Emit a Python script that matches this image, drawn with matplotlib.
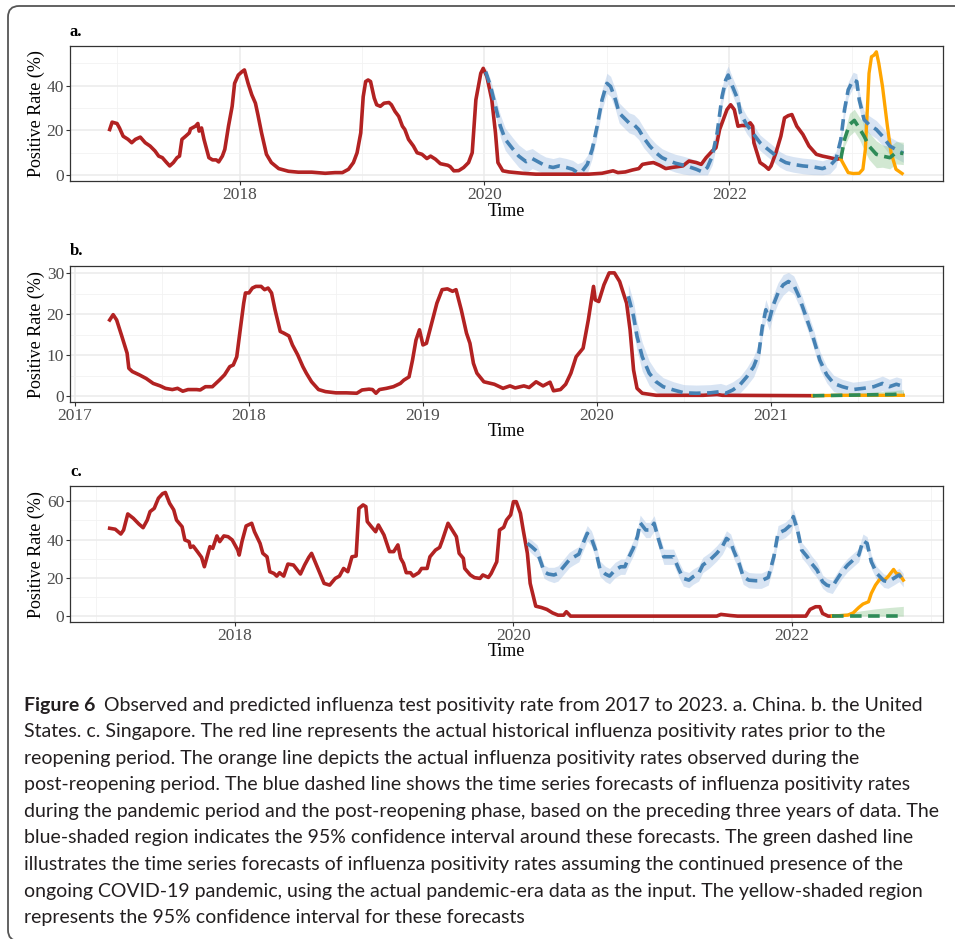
""" influenza positivity: observed vs forecast, three countries """
import numpy as np
import matplotlib.pyplot as plt
from matplotlib.patches import FancyBboxPatch
from matplotlib.transforms import IdentityTransform

plt.rcParams['font.family'] = ['Liberation Serif', 'DejaVu Serif']

''' values read off the figure: (decimal year, positive rate %) '''
# a. China
cn_observed = [
    (2016.94, 20.3), (2016.96, 23.6), (2017.00, 23.0), (2017.02, 21.0), (2017.05, 17.3),
    (2017.09, 15.9), (2017.12, 14.4), (2017.15, 15.9), (2017.19, 16.9), (2017.23, 14.4),
    (2017.27, 12.9), (2017.31, 10.7), (2017.34, 8.4), (2017.37, 7.7), (2017.40, 5.8),
    (2017.43, 4.0), (2017.46, 5.5), (2017.49, 7.7), (2017.51, 8.4), (2017.53, 15.9),
    (2017.56, 17.3), (2017.59, 18.8), (2017.60, 20.6), (2017.64, 21.8), (2017.66, 23.0),
    (2017.67, 19.6), (2017.69, 21.0), (2017.71, 15.9), (2017.75, 7.7), (2017.78, 6.7),
    (2017.81, 6.7), (2017.83, 5.8), (2017.86, 8.4), (2017.88, 11.4), (2017.91, 21.8),
    (2017.94, 30.7), (2017.96, 41.0), (2017.99, 44.7), (2018.02, 46.2), (2018.04, 47.0),
    (2018.07, 41.0), (2018.10, 35.9), (2018.13, 32.1), (2018.15, 27.0), (2018.18, 18.8),
    (2018.22, 9.2), (2018.26, 5.5), (2018.32, 2.8), (2018.40, 1.6), (2018.48, 1.2),
    (2018.59, 1.2), (2018.70, 0.7), (2018.78, 1.0), (2018.84, 1.0), (2018.89, 2.5),
    (2018.93, 5.5), (2018.96, 9.9), (2018.99, 18.8), (2019.01, 35.0), (2019.03, 41.8),
    (2019.05, 42.5), (2019.07, 41.8), (2019.10, 34.4), (2019.12, 31.4), (2019.15, 30.7),
    (2019.18, 32.1), (2019.22, 32.4), (2019.24, 31.4), (2019.27, 28.4), (2019.30, 26.2),
    (2019.33, 21.8), (2019.35, 20.3), (2019.38, 15.9), (2019.42, 12.9), (2019.45, 9.9),
    (2019.49, 9.2), (2019.53, 7.3), (2019.56, 8.4), (2019.60, 7.0), (2019.64, 5.0),
    (2019.70, 4.3), (2019.72, 3.7), (2019.75, 1.8), (2019.79, 1.9), (2019.83, 3.3),
    (2019.87, 5.5), (2019.90, 9.9), (2019.93, 33.6), (2019.97, 45.5), (2019.99, 47.7),
    (2020.02, 44.0), (2020.06, 33.6), (2020.09, 18.8), (2020.11, 5.5), (2020.15, 1.8),
    (2020.20, 1.3), (2020.31, 0.7), (2020.42, 0.3), (2020.56, 0.3), (2020.69, 0.3),
    (2020.85, 0.3), (2020.96, 0.7), (2021.05, 1.8), (2021.09, 1.0), (2021.15, 1.3),
    (2021.21, 2.2), (2021.26, 2.8), (2021.29, 4.7), (2021.34, 5.2), (2021.38, 5.5),
    (2021.43, 4.3), (2021.48, 2.8), (2021.53, 3.3), (2021.62, 4.0), (2021.67, 6.2),
    (2021.73, 5.5), (2021.77, 4.7), (2021.81, 7.7), (2021.86, 10.7), (2021.89, 12.1),
    (2021.92, 20.3), (2021.94, 23.3), (2021.98, 29.2), (2022.01, 31.4), (2022.04, 29.2),
    (2022.07, 21.8), (2022.10, 22.1), (2022.14, 22.1), (2022.17, 23.3), (2022.19, 21.8),
    (2022.20, 14.4), (2022.25, 5.5), (2022.29, 4.0), (2022.32, 2.5), (2022.34, 4.0),
    (2022.38, 9.9), (2022.42, 17.3), (2022.45, 25.5), (2022.48, 26.5), (2022.51, 27.0),
    (2022.55, 21.8), (2022.60, 18.1), (2022.65, 12.9), (2022.71, 9.2), (2022.76, 8.4),
    (2022.82, 7.7), (2022.87, 7.0), (2022.91, 7.3),
]
cn_reopen = [
    (2022.91, 7.0), (2022.94, 4.0), (2022.97, 1.0), (2023.01, 0.6), (2023.06, 0.7),
    (2023.09, 2.5), (2023.11, 11.4), (2023.13, 33.6), (2023.14, 45.5), (2023.16, 52.9),
    (2023.18, 53.6), (2023.20, 55.1), (2023.22, 49.9), (2023.25, 39.6), (2023.29, 21.8),
    (2023.32, 9.9), (2023.36, 2.5), (2023.41, 0.6),
]
# (decimal year, forecast, half width of 95% CI)
cn_forecast = [
    (2020.01, 46.2, 2.0), (2020.05, 39.6, 3.0), (2020.09, 30.7, 4.0), (2020.13, 21.8, 5.0),
    (2020.17, 15.9, 5.0), (2020.23, 11.7, 5.0), (2020.28, 8.4, 5.0), (2020.34, 5.9, 5.0),
    (2020.39, 7.3, 4.5), (2020.45, 5.5, 4.0), (2020.50, 4.0, 4.0), (2020.56, 3.3, 4.0),
    (2020.61, 4.0, 4.0), (2020.67, 3.3, 4.0), (2020.72, 2.5, 4.0), (2020.76, 1.0, 4.0),
    (2020.80, 1.8, 4.0), (2020.84, 4.7, 4.0), (2020.88, 11.4, 4.0), (2020.92, 21.8, 4.5),
    (2020.96, 33.6, 4.5), (2021.00, 41.0, 4.5), (2021.03, 39.6, 4.5), (2021.07, 33.6, 4.5),
    (2021.10, 27.7, 4.5), (2021.14, 25.5, 4.5), (2021.18, 23.3, 4.5), (2021.22, 22.5, 4.5),
    (2021.26, 20.3, 4.5), (2021.30, 16.6, 4.5), (2021.35, 12.9, 4.0), (2021.40, 9.9, 4.0),
    (2021.45, 7.7, 4.0), (2021.51, 6.2, 4.0), (2021.56, 5.2, 4.0), (2021.62, 4.4, 4.0),
    (2021.67, 3.6, 4.0), (2021.73, 2.5, 4.0), (2021.78, 1.3, 4.0), (2021.82, 3.3, 4.0),
    (2021.86, 8.4, 4.0), (2021.90, 18.8, 4.0), (2021.94, 35.1, 4.0), (2021.97, 42.5, 4.0),
    (2021.99, 44.7, 4.0), (2022.02, 40.3, 4.0), (2022.07, 33.6, 4.0), (2022.09, 27.7, 4.0),
    (2022.14, 22.5, 4.0), (2022.19, 18.8, 4.0), (2022.25, 14.4, 3.5), (2022.30, 12.1, 3.5),
    (2022.35, 9.9, 3.5), (2022.41, 7.0, 3.5), (2022.46, 5.5, 3.5), (2022.52, 4.7, 3.5),
    (2022.60, 4.0, 3.5), (2022.68, 3.6, 3.5), (2022.76, 2.8, 3.5), (2022.82, 4.0, 3.5),
    (2022.87, 7.0, 3.5), (2022.91, 15.9, 3.5), (2022.94, 29.2, 3.5), (2022.97, 38.1, 3.5),
    (2023.01, 42.5, 3.5), (2023.04, 41.8, 3.5), (2023.06, 33.6, 4.0), (2023.10, 24.7, 4.0),
    (2023.14, 22.5, 4.0), (2023.20, 20.3, 4.0), (2023.25, 17.3, 4.0), (2023.31, 12.9, 4.0),
    (2023.36, 11.4, 4.0), (2023.42, 9.6, 4.0),
]
cn_covid = [
    (2022.91, 7.3, 1.0), (2022.94, 15.9, 3.0), (2022.98, 22.5, 5.0), (2023.02, 24.4, 5.0),
    (2023.06, 21.0, 5.0), (2023.10, 17.3, 6.0), (2023.14, 12.9, 6.0), (2023.20, 9.2, 6.0),
    (2023.25, 8.4, 5.0), (2023.31, 7.7, 5.0), (2023.36, 9.9, 5.0), (2023.42, 9.6, 5.0),
]

# b. United States
us_observed = [
    (2017.20, 18.6), (2017.22, 19.9), (2017.24, 18.6), (2017.27, 14.6), (2017.30, 10.5),
    (2017.31, 6.8), (2017.33, 6.0), (2017.37, 5.2), (2017.41, 4.3), (2017.45, 3.1),
    (2017.49, 2.5), (2017.52, 1.9), (2017.56, 1.6), (2017.59, 1.9), (2017.62, 1.2),
    (2017.65, 1.6), (2017.70, 1.6), (2017.72, 1.5), (2017.75, 2.3), (2017.79, 2.3),
    (2017.83, 3.9), (2017.86, 5.2), (2017.89, 7.2), (2017.91, 7.6), (2017.93, 9.6),
    (2017.95, 16.2), (2017.97, 22.7), (2017.98, 25.2), (2018.00, 25.2), (2018.02, 26.4),
    (2018.04, 26.8), (2018.07, 26.8), (2018.09, 26.0), (2018.11, 26.4), (2018.13, 25.2),
    (2018.15, 21.1), (2018.18, 15.8), (2018.20, 15.4), (2018.23, 14.7), (2018.25, 12.5),
    (2018.28, 10.1), (2018.31, 7.2), (2018.33, 5.6), (2018.36, 3.5), (2018.40, 1.6),
    (2018.44, 1.1), (2018.50, 0.8), (2018.56, 0.8), (2018.62, 0.7), (2018.65, 1.5),
    (2018.69, 1.7), (2018.71, 1.6), (2018.73, 0.7), (2018.75, 1.6), (2018.79, 1.9),
    (2018.83, 2.3), (2018.87, 3.1), (2018.89, 3.9), (2018.92, 4.7), (2018.94, 8.8),
    (2018.96, 13.7), (2018.98, 16.2), (2019.00, 12.5), (2019.02, 12.9), (2019.05, 17.8),
    (2019.08, 22.7), (2019.11, 26.0), (2019.14, 26.2), (2019.17, 25.6), (2019.19, 26.0),
    (2019.22, 21.1), (2019.25, 15.4), (2019.27, 12.9), (2019.29, 8.0), (2019.31, 5.6),
    (2019.35, 3.5), (2019.41, 2.9), (2019.46, 1.9), (2019.50, 2.5), (2019.53, 2.0),
    (2019.58, 2.5), (2019.61, 2.1), (2019.65, 3.5), (2019.69, 2.5), (2019.73, 3.4),
    (2019.75, 1.3), (2019.79, 1.6), (2019.82, 2.9), (2019.85, 5.6), (2019.88, 9.6),
    (2019.92, 11.7), (2019.95, 18.6), (2019.98, 26.8), (2019.99, 23.5), (2020.01, 23.1),
    (2020.04, 27.2), (2020.07, 30.1), (2020.10, 30.1), (2020.13, 28.0), (2020.17, 22.7),
    (2020.19, 16.2), (2020.21, 6.4), (2020.23, 1.9), (2020.26, 0.7), (2020.34, 0.2),
    (2020.51, 0.2), (2020.61, 0.2), (2020.69, 0.4), (2020.72, 0.2), (2021.24, 0.1),
]
us_reopen = [
    (2021.24, 0.1), (2021.40, 0.2), (2021.55, 0.2), (2021.70, 0.2), (2021.76, 0.2),
]
us_forecast = [
    (2020.18, 24.4, 3.0), (2020.21, 19.5, 3.5), (2020.23, 14.6, 3.5), (2020.26, 9.6, 3.5),
    (2020.30, 5.6, 3.0), (2020.34, 3.5, 2.5), (2020.38, 2.3, 2.2), (2020.44, 1.5, 2.0),
    (2020.50, 0.8, 2.0), (2020.57, 0.7, 2.0), (2020.65, 0.8, 2.0), (2020.71, 1.1, 2.0),
    (2020.74, 0.7, 2.0), (2020.78, 1.5, 2.0), (2020.82, 2.7, 2.0), (2020.86, 4.7, 2.2),
    (2020.90, 7.2, 2.5), (2020.93, 10.5, 2.5), (2020.95, 17.0, 2.5), (2020.97, 21.1, 2.5),
    (2020.99, 18.6, 2.5), (2021.01, 21.9, 2.5), (2021.04, 25.2, 2.5), (2021.07, 27.2, 2.5),
    (2021.10, 28.0, 2.2), (2021.13, 27.2, 2.2), (2021.16, 24.4, 2.2), (2021.20, 19.5, 2.2),
    (2021.24, 14.6, 2.2), (2021.28, 8.8, 2.2), (2021.32, 5.2, 2.0), (2021.36, 3.1, 2.0),
    (2021.41, 2.3, 1.8), (2021.47, 1.6, 1.8), (2021.53, 1.9, 1.8), (2021.59, 2.3, 1.8),
    (2021.64, 3.1, 1.8), (2021.68, 2.3, 1.8), (2021.72, 2.9, 1.8), (2021.75, 2.5, 1.8),
]
us_covid = [
    (2021.24, 0.1, 0.2), (2021.40, 0.2, 0.4), (2021.55, 0.3, 0.6), (2021.70, 0.4, 0.9),
    (2021.76, 0.6, 1.0),
]

# c. Singapore
sg_observed = [
    (2017.10, 45.9), (2017.14, 45.4), (2017.18, 42.9), (2017.20, 45.0), (2017.23, 53.4),
    (2017.27, 51.1), (2017.31, 48.1), (2017.34, 46.2), (2017.37, 50.2), (2017.39, 54.6),
    (2017.42, 56.3), (2017.45, 61.6), (2017.48, 64.0), (2017.50, 64.6), (2017.53, 59.0),
    (2017.56, 55.5), (2017.58, 50.2), (2017.62, 46.7), (2017.64, 39.8), (2017.67, 38.9),
    (2017.68, 35.9), (2017.70, 36.6), (2017.73, 33.7), (2017.76, 30.7), (2017.78, 25.8),
    (2017.80, 31.0), (2017.82, 36.3), (2017.84, 35.4), (2017.87, 41.9), (2017.89, 38.9),
    (2017.92, 41.9), (2017.95, 41.5), (2017.98, 39.8), (2018.00, 37.2), (2018.02, 34.5),
    (2018.03, 31.9), (2018.05, 38.9), (2018.08, 47.1), (2018.12, 48.5), (2018.14, 44.1),
    (2018.18, 38.0), (2018.20, 32.8), (2018.23, 31.0), (2018.25, 23.2), (2018.28, 22.3),
    (2018.30, 20.9), (2018.32, 22.7), (2018.35, 20.9), (2018.38, 27.2), (2018.42, 26.7),
    (2018.47, 22.0), (2018.50, 26.7), (2018.53, 30.7), (2018.55, 32.8), (2018.58, 27.6),
    (2018.61, 22.3), (2018.64, 17.1), (2018.68, 16.2), (2018.72, 19.7), (2018.75, 20.9),
    (2018.78, 24.9), (2018.81, 23.2), (2018.84, 31.0), (2018.87, 31.4), (2018.89, 56.3),
    (2018.92, 58.1), (2018.94, 57.2), (2018.95, 49.4), (2018.98, 46.7), (2019.01, 44.1),
    (2019.03, 47.6), (2019.07, 42.4), (2019.09, 38.0), (2019.11, 33.7), (2019.14, 33.7),
    (2019.17, 37.2), (2019.19, 30.2), (2019.21, 27.6), (2019.23, 22.7), (2019.26, 22.7),
    (2019.28, 20.9), (2019.32, 22.7), (2019.34, 24.9), (2019.38, 24.9), (2019.40, 31.0),
    (2019.44, 34.5), (2019.47, 35.9), (2019.49, 39.8), (2019.53, 48.5), (2019.56, 45.0),
    (2019.59, 41.5), (2019.61, 32.8), (2019.64, 30.2), (2019.65, 24.9), (2019.69, 21.5),
    (2019.72, 20.1), (2019.76, 19.7), (2019.78, 21.5), (2019.82, 20.2), (2019.84, 22.3),
    (2019.88, 28.4), (2019.90, 45.0), (2019.93, 46.4), (2019.95, 50.2), (2019.98, 52.9),
    (2020.00, 59.8), (2020.02, 59.8), (2020.05, 53.7), (2020.07, 45.0), (2020.10, 32.8),
    (2020.12, 17.1), (2020.16, 5.2), (2020.20, 4.5), (2020.24, 3.5), (2020.28, 1.7),
    (2020.32, 0.5), (2020.36, 0.5), (2020.38, 2.3), (2020.41, 0.0), (2021.46, 0.0),
    (2021.49, 0.9), (2021.56, 0.3), (2021.61, 0.0), (2022.10, 0.0), (2022.13, 3.5),
    (2022.17, 4.9), (2022.20, 4.9), (2022.22, 1.4), (2022.26, 0.0), (2022.29, 0.0),
]
sg_reopen = [
    (2022.29, 0.0), (2022.40, 0.5), (2022.44, 1.7), (2022.48, 4.5), (2022.51, 6.3),
    (2022.55, 7.5), (2022.57, 11.9), (2022.60, 16.2), (2022.63, 19.2), (2022.67, 19.2),
    (2022.69, 20.6), (2022.73, 24.4), (2022.75, 22.3), (2022.77, 22.0), (2022.80, 18.8),
]
sg_forecast = [
    (2020.10, 38.0, 3.0), (2020.13, 36.3, 3.5), (2020.17, 33.7, 3.5), (2020.20, 27.6, 3.5),
    (2020.22, 23.2, 3.5), (2020.25, 22.0, 3.5), (2020.29, 21.5, 4.0), (2020.32, 22.3, 4.0),
    (2020.36, 25.8, 4.0), (2020.40, 29.3, 4.0), (2020.43, 30.7, 4.0), (2020.47, 32.4, 4.0),
    (2020.49, 36.3, 4.0), (2020.53, 43.3, 4.0), (2020.56, 40.6, 4.0), (2020.59, 34.5, 4.0),
    (2020.62, 24.9, 4.0), (2020.66, 22.0, 4.0), (2020.69, 20.9, 4.0), (2020.73, 24.1, 4.0),
    (2020.77, 25.8, 4.0), (2020.80, 25.8, 4.0), (2020.83, 31.0, 4.0), (2020.86, 35.4, 4.0),
    (2020.89, 41.5, 4.0), (2020.91, 48.8, 4.0), (2020.95, 45.0, 4.0), (2020.98, 45.0, 4.0),
    (2021.01, 48.5, 4.0), (2021.04, 40.6, 4.0), (2021.08, 31.0, 4.0), (2021.11, 31.0, 4.0),
    (2021.15, 31.0, 4.0), (2021.19, 24.1, 4.0), (2021.22, 19.7, 4.0), (2021.26, 18.8, 4.0),
    (2021.29, 20.6, 4.0), (2021.33, 22.3, 4.0), (2021.36, 26.7, 4.0), (2021.41, 29.3, 4.0),
    (2021.46, 32.8, 4.0), (2021.50, 36.3, 4.0), (2021.53, 40.6, 4.0), (2021.56, 38.9, 4.0),
    (2021.58, 34.5, 4.0), (2021.62, 27.6, 4.0), (2021.65, 20.6, 4.0), (2021.69, 18.8, 4.0),
    (2021.74, 18.5, 4.0), (2021.78, 18.5, 4.0), (2021.83, 20.2, 4.0), (2021.87, 31.0, 4.0),
    (2021.90, 43.3, 4.0), (2021.95, 45.0, 4.0), (2021.99, 47.6, 4.0), (2022.01, 52.0, 4.0),
    (2022.04, 45.0, 4.0), (2022.07, 34.5, 4.0), (2022.11, 31.0, 4.0), (2022.14, 27.6, 4.0),
    (2022.18, 24.1, 4.0), (2022.22, 18.0, 3.5), (2022.25, 16.2, 3.5), (2022.29, 15.3, 3.5),
    (2022.32, 18.8, 3.5), (2022.36, 23.2, 3.5), (2022.40, 26.7, 3.5), (2022.44, 29.3, 3.5),
    (2022.48, 31.9, 3.5), (2022.51, 39.4, 3.5), (2022.54, 38.0, 3.5), (2022.57, 28.4, 3.5),
    (2022.61, 22.3, 3.5), (2022.66, 18.5, 3.5), (2022.69, 18.0, 3.5), (2022.73, 19.7, 3.5),
    (2022.77, 21.5, 3.5), (2022.80, 18.8, 3.5),
]
sg_covid = [
    (2022.29, 0.3, 0.8), (2022.40, 0.3, 1.5), (2022.50, 0.3, 2.5), (2022.60, 0.3, 3.5),
    (2022.70, 0.3, 4.2), (2022.80, 0.3, 4.8),
]

caption_head = 'Figure 6'
caption_lines = [
    'Observed and predicted influenza test positivity rate from 2017 to 2023. a. China. b. the United',
    'States. c. Singapore. The red line represents the actual historical influenza positivity rates prior to the',
    'reopening period. The orange line depicts the actual influenza positivity rates observed during the',
    'post-reopening period. The blue dashed line shows the time series forecasts of influenza positivity rates',
    'during the pandemic period and the post-reopening phase, based on the preceding three years of data. The',
    'blue-shaded region indicates the 95% confidence interval around these forecasts. The green dashed line',
    'illustrates the time series forecasts of influenza positivity rates assuming the continued presence of the',
    'ongoing COVID-19 pandemic, using the actual pandemic-era data as the input. The yellow-shaded region',
    'represents the 95% confidence interval for these forecasts',
]

''' layout (pixels, measured from the top-left of the picture) '''
W, H = 955, 939
fig = plt.figure(figsize=(W / 100, H / 100), dpi=100)


def rect(l, t, r, b):
    return [l / W, 1 - b / H, (r - l) / W, (b - t) / H]


RED, ORANGE, BLUE, GREEN = '#B22222', '#FFA500', '#4682B4', '#2E8B57'
TICK_GREY = '#4D4D4D'
DASH = (3.2, 1.8)


def draw_panel(box, tag, tag_y, time_y, observed, reopen, forecast, covid,
               xmajor, xminor, ymajor, yminor):
    ax = fig.add_axes(rect(*box))
    obs = np.array(observed)
    rp = np.array(reopen)
    fc = np.array(forecast)
    cv = np.array(covid)

    fc_lo, fc_hi = np.clip(fc[:, 1] - fc[:, 2], 0, None), fc[:, 1] + fc[:, 2]
    cv_lo, cv_hi = np.clip(cv[:, 1] - cv[:, 2], 0, None), cv[:, 1] + cv[:, 2]
    ax.fill_between(fc[:, 0], fc_lo, fc_hi, color='#9FBDE3', alpha=0.4, lw=0, zorder=2)
    ax.fill_between(cv[:, 0], cv_lo, cv_hi, color='#7FBF7F', alpha=0.35, lw=0, zorder=2)
    ax.plot(obs[:, 0], obs[:, 1], color=RED, lw=2.6, zorder=3, solid_joinstyle='round')
    ax.plot(rp[:, 0], rp[:, 1], color=ORANGE, lw=2.4, zorder=4, solid_joinstyle='round')
    ax.plot(fc[:, 0], fc[:, 1], color=BLUE, lw=2.6, dashes=DASH, zorder=5)
    ax.plot(cv[:, 0], cv[:, 1], color=GREEN, lw=2.6, dashes=DASH, zorder=6)

    # ggplot style 5% expansion of the data range
    xs = np.concatenate([obs[:, 0], rp[:, 0], fc[:, 0], cv[:, 0]])
    ys = np.concatenate([obs[:, 1], rp[:, 1], fc_lo, fc_hi, cv_lo, cv_hi])
    dx = 0.05 * (xs.max() - xs.min())
    dy = 0.05 * (ys.max() - ys.min())
    ax.set_xlim(xs.min() - dx, xs.max() + dx)
    ax.set_ylim(ys.min() - dy, ys.max() + dy)

    ax.set_xticks(xmajor)
    ax.set_xticklabels([str(y) for y in xmajor])
    ax.set_xticks(xminor, minor=True)
    ax.set_yticks(ymajor)
    ax.set_yticks(yminor, minor=True)
    ax.tick_params(which='major', length=2.75, width=0.8, color='#333333', pad=1.5,
                   labelsize=12.5, labelcolor=TICK_GREY)
    ax.tick_params(which='minor', length=0)
    ax.grid(which='major', color='#EBEBEB', lw=1.1)
    ax.grid(which='minor', color='#F2F2F2', lw=0.6)
    ax.set_axisbelow(True)
    for sp in ax.spines.values():
        sp.set_color('#333333')
        sp.set_linewidth(0.9)

    l, t, r, b = box
    fig.text(l / W, 1 - tag_y / H, tag, fontsize=12, fontweight='bold', va='center', ha='left')
    fig.text((l + r) / 2 / W, 1 - time_y / H, 'Time', fontsize=13, va='center', ha='center')
    fig.text(36 / W, 1 - (t + b) / 2 / H, 'Positive Rate (%)', fontsize=13, rotation=90,
             va='center', ha='center')
    return ax


draw_panel((70, 45.7, 943, 181), 'a.', 32, 212, cn_observed, cn_reopen, cn_forecast, cn_covid,
           [2018, 2020, 2022], [2017, 2019, 2021, 2023], [0, 20, 40], [10, 30, 50])
draw_panel((70, 266.3, 943, 402.3), 'b.', 251, 432, us_observed, us_reopen, us_forecast, us_covid,
           [2017, 2018, 2019, 2020, 2021], [2017.5, 2018.5, 2019.5, 2020.5, 2021.5],
           [0, 10, 20, 30], [5, 15, 25])
draw_panel((70, 486.3, 943, 622.3), 'c.', 472, 652, sg_observed, sg_reopen, sg_forecast, sg_covid,
           [2018, 2020, 2022], [2017, 2019, 2021, 2023], [0, 20, 40, 60], [10, 30, 50])

''' caption, sized so the longest line fits the text block '''
cap_font = ['Lato', 'DejaVu Sans']
cap_color = '#231F20'
renderer = fig.canvas.get_renderer()
probe = fig.text(0, 0, caption_lines[4], fontsize=12, family=cap_font)
cap_size = 12 * 911 / probe.get_window_extent(renderer).width
probe.remove()

x0, y0, step = 24, 705, 26.6
head = fig.text(x0 / W, 1 - y0 / H, caption_head, fontsize=cap_size, family=cap_font,
                fontweight='bold', color=cap_color, va='center', ha='left')
head_w = head.get_window_extent(renderer).width
for i, line in enumerate(caption_lines):
    x = x0 + head_w + 9 if i == 0 else x0
    fig.text(x / W, 1 - (y0 + i * step) / H, line, fontsize=cap_size, family=cap_font,
             color=cap_color, va='center', ha='left')

''' frame round the figure '''
frame = FancyBboxPatch((8, -2), 970, 935, boxstyle='round,pad=0,rounding_size=11',
                       transform=IdentityTransform(), facecolor='none',
                       edgecolor='#555555', lw=1.3)
fig.patches.append(frame)

fig.savefig('out.png', dpi=100)
